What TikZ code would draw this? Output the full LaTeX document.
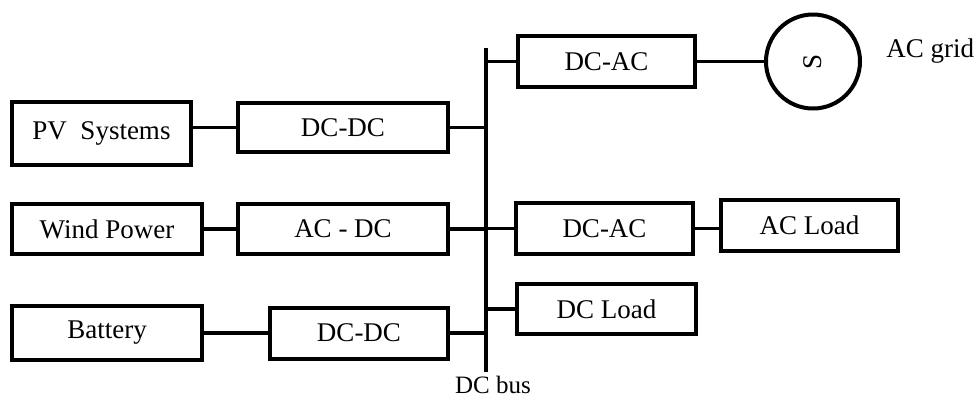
\documentclass[tikz,border=0pt]{standalone}
\usepackage{fontspec}
\setmainfont{Liberation Serif}
\usetikzlibrary{positioning}

\begin{document}
\begin{tikzpicture}[x=0.5pt, y=-0.5pt, font=\fontsize{13.5}{16}\selectfont, box/.style={draw, line width=2pt, minimum width=89pt, minimum height=25.5pt, inner sep=0pt}, wire/.style={line width=1.8pt}, lbl/.style={inner sep=0pt}]
\useasboundingbox (0,0) rectangle (975,398);
% DC bus
\coordinate (bustop) at (486,48);
\coordinate (busbot) at (486,372);
\draw[line width=2pt] (bustop) -- (busbot);
% sources and converters
\node[box, minimum width=89.5pt, minimum height=31.5pt] (pv) at (101.5,133.5) {PV~ Systems};
\node[box, minimum width=105pt, minimum height=24.5pt, right=21.5pt of pv, yshift=3pt] (dcdcpv) {DC-DC};
\node[box, minimum width=95pt, minimum height=25pt] (wind) at (107,229) {Wind Power};
\node[box, minimum width=105pt, minimum height=25pt, right=16pt of wind] (acdc) {AC - DC};
\node[box, minimum width=95pt, minimum height=27pt] (bat) at (107,333) {Battery};
\node[box, right=32pt of bat] (dcdcbat) {DC-DC};
% loads and grid side
\node[box, minimum width=88.5pt] (dcacgrid) at (606.5,61.5) {DC-AC};
\node[draw, circle, line width=2pt, minimum size=47pt, inner sep=0pt, right=33.5pt of dcacgrid] (grid) {};
\node[rotate=90] (sym) at (grid) {S};
\node[lbl, right=12pt of grid, yshift=5pt] (gridlbl) {AC grid};
\node[box, minimum width=88.5pt] (dcacload) at (604.5,228.5) {DC-AC};
\node[box, minimum width=88.5pt, right=12pt of dcacload, yshift=1.5pt] (acload) {AC Load};
\node[box, minimum width=89.5pt, minimum height=25pt, below=13pt of dcacload, xshift=1pt] (dcload) {DC Load};
\node[lbl, font=\fontsize{12.5}{14}\selectfont, below=2pt of busbot, xshift=3.5pt] (buslbl) {DC bus};
% connections
\draw[wire] (dcdcpv.west -| pv.east) -- (dcdcpv.west);
\draw[wire] (wind) -- (acdc);
\draw[wire] (bat.east) -- (bat.east -| dcdcbat.west);
\draw[wire] (dcdcpv.east) -- (dcdcpv.east -| bustop);
\draw[wire] (acdc.east) -- (acdc.east -| bustop);
\draw[wire] (dcdcbat.east) -- (dcdcbat.east -| bustop);
\draw[wire] (dcacgrid.west -| bustop) -- (dcacgrid.west);
\draw[wire] (dcacload.west -| bustop) -- (dcacload.west);
\draw[wire] (dcload.west -| bustop) -- (dcload.west);
\draw[wire] (dcacgrid) -- (grid);
\draw[wire] (dcacload.east) -- (dcacload.east -| acload.west);
\end{tikzpicture}
\end{document}
